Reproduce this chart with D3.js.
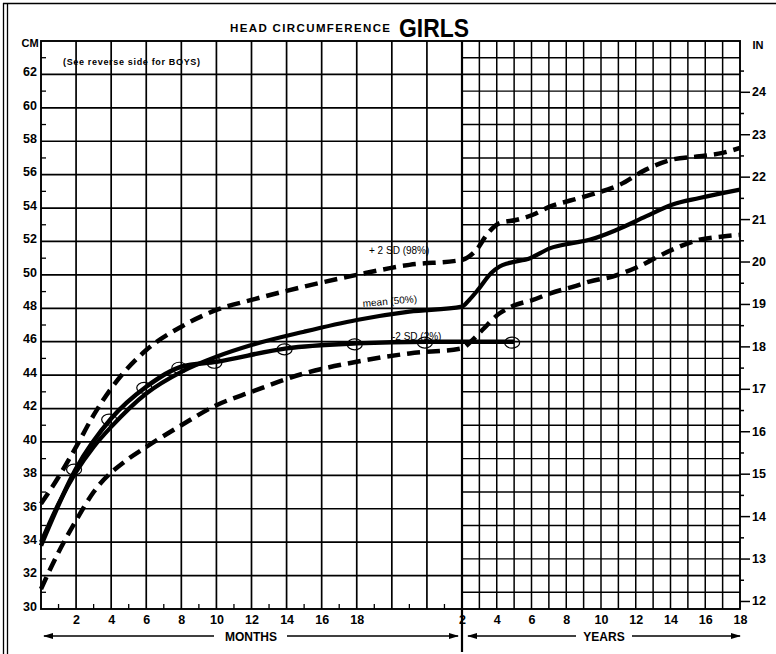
<!DOCTYPE html>
<html lang="en">
<head>
<meta charset="UTF-8">
<title>Head circumference girls</title>
<style>
    body { margin: 0; background: #fff; }
    svg { display: block; font-family: "Liberation Sans", Arial, sans-serif; }
    .tick line { stroke: #000; stroke-width: 1.5; }
    .tick text { font-weight: bold; font-size: 12px; fill: #000; }
</style>
</head>
<body>
<svg id="chart"></svg>

<script src="https://cdn.jsdelivr.net/npm/d3@7"></script>
<script>

    // ages are in months, head size in cm
    var plus2Age = [0, 1, 2, 3, 4, 6, 8, 10, 12, 15, 18, 21, 24, 34, 42, 50, 62, 73, 85, 101, 113, 133, 151, 169, 188, 204, 216];
    var plus2Cm  = [36.3, 37.9, 39.7, 41.6, 43.2, 45.5, 46.9, 47.9, 48.5, 49.3, 50.0, 50.6, 50.9, 51.5, 52.5, 53.1, 53.3, 53.6, 54.1, 54.5, 54.8, 55.4, 56.3, 56.9, 57.1, 57.3, 57.6];

    var meanAge = [0, 1, 2, 3, 4, 6, 8, 10, 12, 15, 18, 21, 24, 29, 35, 44, 50, 56, 71, 85, 100, 112, 131, 151, 169, 188, 216];
    var meanCm  = [34.0, 36.3, 38.2, 39.7, 40.9, 42.9, 44.2, 45.1, 45.8, 46.6, 47.3, 47.8, 48.1, 48.5, 49.1, 50.1, 50.5, 50.7, 51.0, 51.6, 51.9, 52.1, 52.7, 53.5, 54.2, 54.6, 55.1];

    var minus2Age = [0, 1, 2, 3, 5, 6, 8, 10, 12, 15, 18, 21, 24, 30, 38, 50, 61, 73, 85, 101, 112, 128, 146, 169, 188, 204, 216];
    var minus2Cm  = [31.2, 33.4, 35.3, 37.0, 39.0, 39.7, 41.0, 42.2, 43.0, 44.1, 44.8, 45.3, 45.6, 46.0, 46.7, 47.7, 48.2, 48.5, 48.9, 49.3, 49.6, 49.9, 50.5, 51.5, 52.1, 52.3, 52.4];

    var patientAge = [0, 2, 4, 6, 8, 10, 14, 18, 22, 60];
    var patientCm  = [33.8, 38.4, 41.4, 43.3, 44.5, 44.8, 45.6, 45.9, 46.0, 46.0];

    var cmLabels = [30, 32, 34, 36, 38, 40, 42, 44, 46, 48, 50, 52, 54, 56, 58, 60, 62];
    var inchLabels = [12, 13, 14, 15, 16, 17, 18, 19, 20, 21, 22, 23, 24];
    var monthLabels = [2, 4, 6, 8, 10, 12, 14, 16, 18];
    var yearLabels = [2, 4, 6, 8, 10, 12, 14, 16, 18];

    var svgWidth = 776, svgHeight = 654;
    var plotL = 41, plotR = 740, plotT = 41, plotB = 609, divide = 462;

    var svg = d3.select('#chart')
        .attr('width', svgWidth)
        .attr('height', svgHeight);

    // months 0-24 take the left part, years 2-18 the right part
    var x = d3.scaleLinear().domain([0, 24, 216]).range([plotL, divide, plotR]);
    var y = d3.scaleLinear().domain([30, 64]).range([plotB, plotT]);
    var yIn = d3.scaleLinear().domain([30 / 2.54, 64 / 2.54]).range([plotB, plotT]);

    // outer page border
    svg.append('line').attr('x1', 3).attr('x2', svgWidth).attr('y1', 3.5).attr('y2', 3.5)
        .attr('stroke', '#000').attr('stroke-width', 1.5);
    [3.5, 7.5].forEach(function (px) {
        svg.append('line').attr('x1', px).attr('x2', px).attr('y1', 3).attr('y2', svgHeight)
            .attr('stroke', '#000').attr('stroke-width', 1.3);
    });

    var grid = svg.append('g').attr('stroke', '#000');

    // month part: lines every 2 months and every 2 cm
    d3.range(2, 24, 2).forEach(function (m) {
        grid.append('line').attr('x1', x(m)).attr('x2', x(m)).attr('y1', plotT).attr('y2', plotB)
            .attr('stroke-width', 1.7);
    });
    d3.range(32, 64, 2).forEach(function (c) {
        grid.append('line').attr('x1', plotL).attr('x2', divide).attr('y1', y(c)).attr('y2', y(c))
            .attr('stroke-width', 1.7);
    });

    // year part: lines every year and every cm
    d3.range(3, 18).forEach(function (yr) {
        grid.append('line').attr('x1', x(yr * 12)).attr('x2', x(yr * 12)).attr('y1', plotT).attr('y2', plotB)
            .attr('stroke-width', 1.5);
    });
    d3.range(31, 64).forEach(function (c) {
        grid.append('line').attr('x1', divide).attr('x2', plotR).attr('y1', y(c)).attr('y2', y(c))
            .attr('stroke-width', c % 2 === 0 ? 1.7 : 1.4);
    });

    // frame
    grid.append('rect').attr('x', plotL).attr('y', plotT).attr('width', plotR - plotL).attr('height', plotB - plotT)
        .attr('fill', 'none').attr('stroke-width', 1.9);
    grid.append('line').attr('x1', divide).attr('x2', divide).attr('y1', plotT).attr('y2', 652)
        .attr('stroke-width', 2.2);

    // small ticks: odd cm on the left, odd months at the bottom
    d3.range(31, 64, 2).forEach(function (c) {
        grid.append('line').attr('x1', plotL).attr('x2', plotL + 5).attr('y1', y(c)).attr('y2', y(c))
            .attr('stroke-width', 1.3);
    });
    d3.range(1, 24, 2).forEach(function (m) {
        grid.append('line').attr('x1', x(m)).attr('x2', x(m)).attr('y1', plotB).attr('y2', plotB - 5)
            .attr('stroke-width', 1.3);
    });

    // axes
    var leftAxis = svg.append('g')
        .attr('transform', 'translate(' + plotL + ',0)')
        .call(d3.axisLeft(y).tickValues(cmLabels).tickSize(0).tickPadding(4));
    leftAxis.select('.domain').remove();
    leftAxis.selectAll('text').attr('dy', '0.1em');

    var rightAxis = svg.append('g')
        .attr('transform', 'translate(' + plotR + ',0)')
        .call(d3.axisRight(yIn).tickValues(inchLabels).tickSize(10).tickPadding(2));
    rightAxis.select('.domain').remove();

    var rightMinor = svg.append('g')
        .attr('transform', 'translate(' + plotR + ',0)')
        .call(d3.axisRight(yIn).tickValues(d3.range(12.5, 25, 1)).tickSize(4).tickFormat(''));
    rightMinor.select('.domain').remove();

    var monthAxis = svg.append('g')
        .attr('transform', 'translate(0,' + plotB + ')')
        .call(d3.axisBottom(x).tickValues(monthLabels).tickSize(0).tickPadding(6));
    monthAxis.select('.domain').remove();

    var yearAxis = svg.append('g')
        .attr('transform', 'translate(0,' + plotB + ')')
        .call(d3.axisBottom(x).tickValues(yearLabels.map(function (d) { return d * 12; }))
            .tickSize(0).tickPadding(6)
            .tickFormat(function (d) { return d / 12; }));
    yearAxis.select('.domain').remove();

    svg.selectAll('.tick text').style('font-size', '12.5px');

    // arrows under the axis
    var defs = svg.append('defs');
    defs.append('marker').attr('id', 'head')
        .attr('viewBox', '0 0 10 6').attr('refX', 9).attr('refY', 3)
        .attr('markerWidth', 10).attr('markerHeight', 6).attr('markerUnits', 'userSpaceOnUse')
        .attr('orient', 'auto-start-reverse')
        .append('path').attr('d', 'M0,0L10,3L0,6Z').attr('fill', '#000');

    function arrow(x1, x2, yy, start, end) {
        var l = svg.append('line').attr('x1', x1).attr('x2', x2).attr('y1', yy).attr('y2', yy)
            .attr('stroke', '#000').attr('stroke-width', 1.5);
        if (start) l.attr('marker-start', 'url(#head)');
        if (end) l.attr('marker-end', 'url(#head)');
    }
    arrow(44, 214, 636, true, false);
    arrow(287, 458, 636, false, true);
    arrow(468, 576, 636, true, false);
    arrow(632, 740, 636, false, true);

    svg.append('text').attr('x', 251).attr('y', 641).attr('text-anchor', 'middle')
        .attr('font-weight', 'bold').attr('font-size', 12).text('MONTHS');
    svg.append('text').attr('x', 604).attr('y', 641).attr('text-anchor', 'middle')
        .attr('font-weight', 'bold').attr('font-size', 12).text('YEARS');

    // titles and unit labels
    svg.append('text').attr('x', 230).attr('y', 32).attr('font-weight', 'bold').attr('font-size', 11.5)
        .attr('textLength', 160).text('HEAD CIRCUMFERENCE');
    svg.append('text').attr('x', 399).attr('y', 37).attr('font-weight', 'bold').attr('font-size', 26)
        .attr('textLength', 70).attr('lengthAdjust', 'spacingAndGlyphs').text('GIRLS');
    svg.append('text').attr('x', 30).attr('y', 47).attr('text-anchor', 'middle')
        .attr('font-weight', 'bold').attr('font-size', 11).text('CM');
    svg.append('text').attr('x', 758).attr('y', 49).attr('text-anchor', 'middle')
        .attr('font-weight', 'bold').attr('font-size', 11).text('IN');
    svg.append('text').attr('x', 63).attr('y', 65).attr('font-weight', 'bold').attr('font-size', 9)
        .attr('textLength', 137).text('(See reverse side for BOYS)');

    // curves
    var line = d3.line()
        .x(function (d) { return x(d[0]); })
        .y(function (d) { return y(d[1]); })
        .curve(d3.curveMonotoneX);

    function pairs(ages, vals) {
        return ages.map(function (a, i) { return [a, vals[i]]; });
    }

    svg.append('path').datum(pairs(plus2Age, plus2Cm)).attr('d', line)
        .attr('fill', 'none').attr('stroke', '#000').attr('stroke-width', 4.5).attr('stroke-dasharray', '13,7');
    svg.append('path').datum(pairs(minus2Age, minus2Cm)).attr('d', line)
        .attr('fill', 'none').attr('stroke', '#000').attr('stroke-width', 4.5).attr('stroke-dasharray', '13,7');
    svg.append('path').datum(pairs(meanAge, meanCm)).attr('d', line)
        .attr('fill', 'none').attr('stroke', '#000').attr('stroke-width', 4.2);

    // curve labels
    svg.append('text').attr('x', 369).attr('y', 254).attr('font-size', 10).text('+ 2 SD (98%)');
    svg.append('text').attr('x', 363).attr('y', 307).attr('font-size', 10)
        .attr('transform', 'rotate(-5,363,307)').text('mean (50%)');
    svg.append('text').attr('x', 392).attr('y', 340).attr('font-size', 10).text('-2 SD (2%)');

    // measured child
    var patient = pairs(patientAge, patientCm);
    svg.append('path').datum(patient).attr('d', line)
        .attr('fill', 'none').attr('stroke', '#000').attr('stroke-width', 4.5);
    svg.selectAll('ellipse.pt')
        .data(patient.slice(1))
        .enter()
        .append('ellipse')
        .attr('class', 'pt')
        .attr('cx', function (d) { return x(d[0]) - 2; })
        .attr('cy', function (d) { return y(d[1]) + 1; })
        .attr('rx', 7.5).attr('ry', 5.5)
        .attr('fill', 'none').attr('stroke', '#000').attr('stroke-width', 1.2);

</script>
</body>
</html>
